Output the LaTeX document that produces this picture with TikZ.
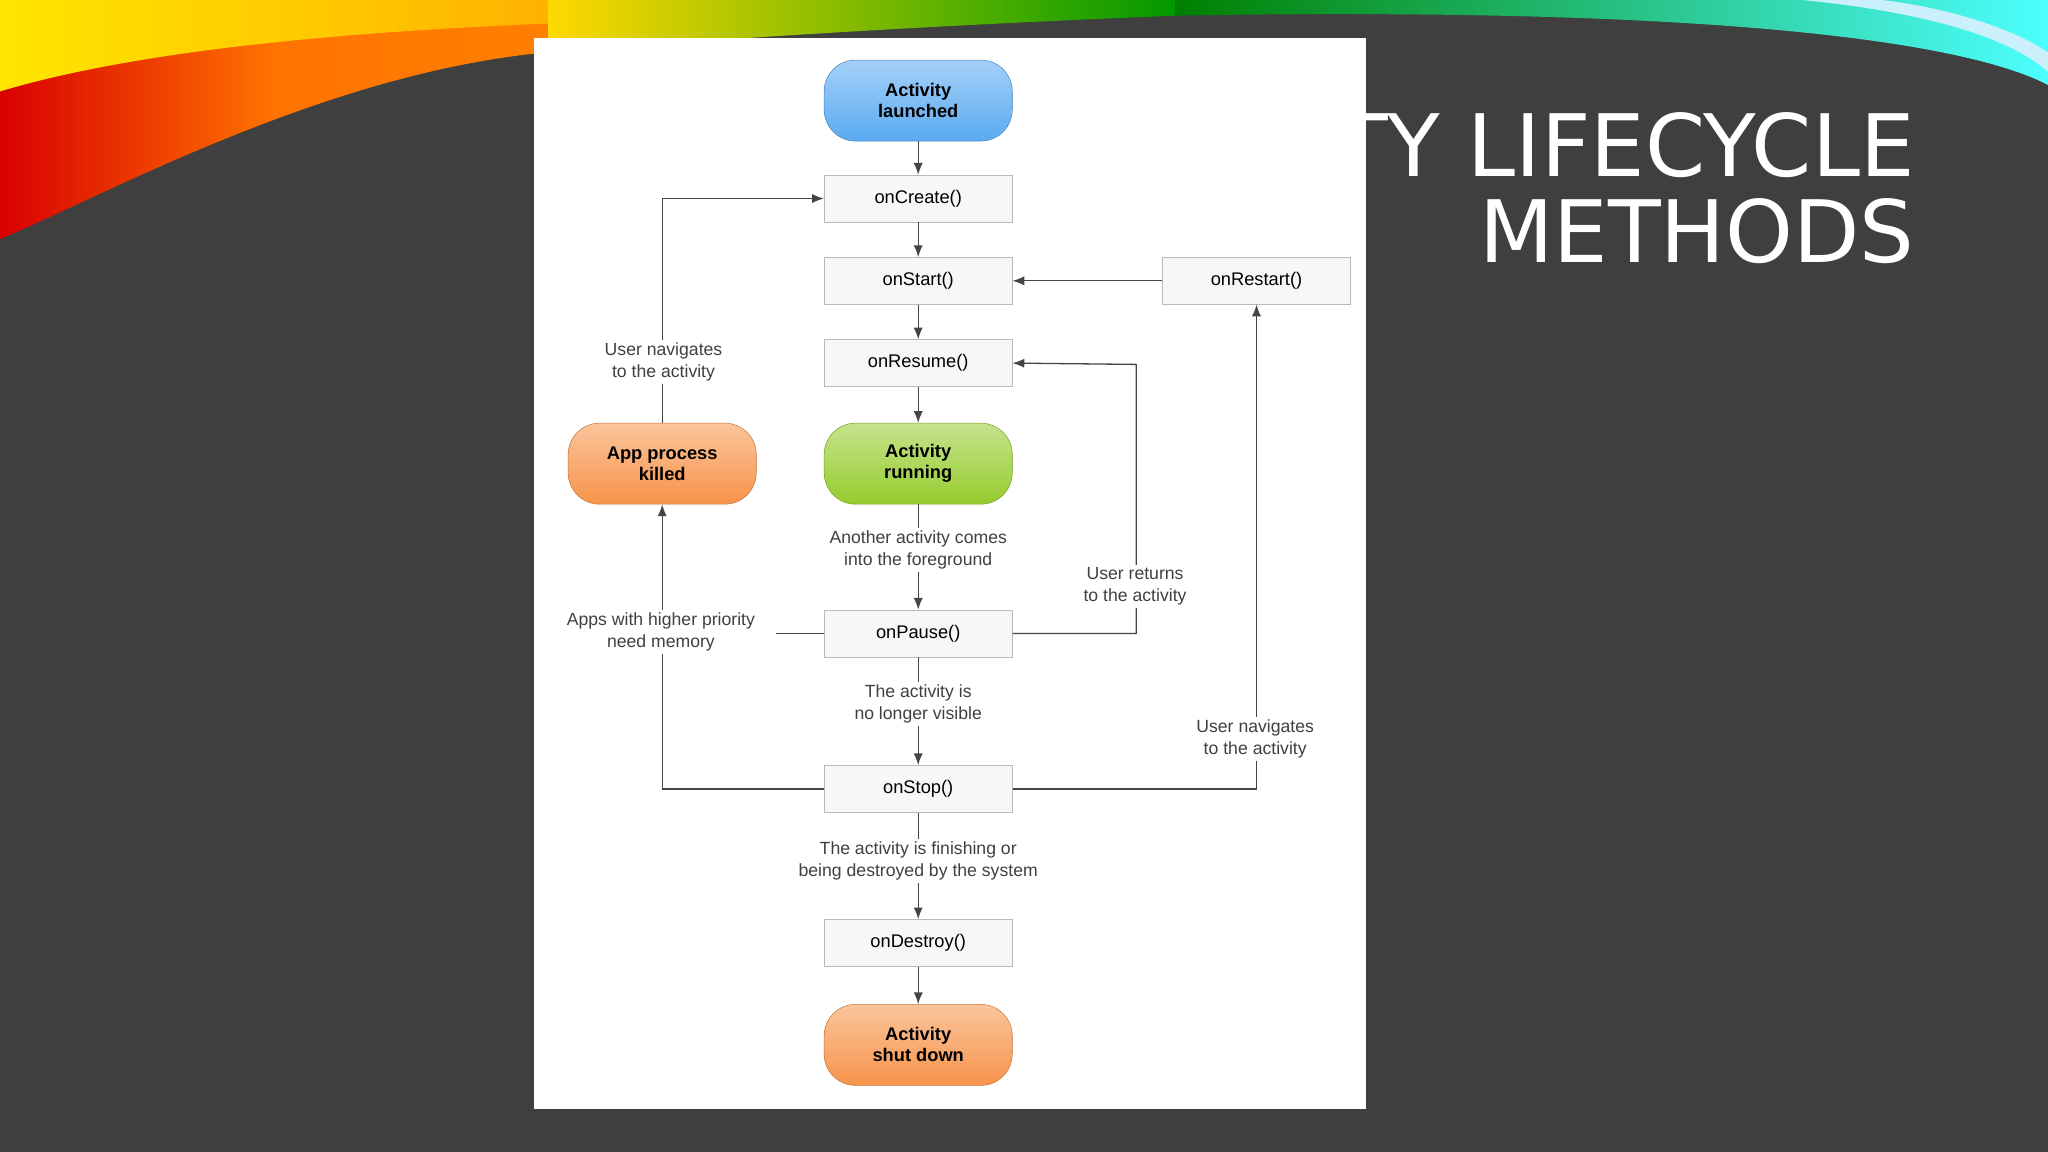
\documentclass[tikz,border=0pt]{standalone}
\usepackage{fontspec}
\setmainfont{Liberation Sans}
\newfontfamily\titlefont{DejaVu Sans}
\usetikzlibrary{arrows.meta}
\definecolor{bg}{HTML}{3F3F3F}
\definecolor{ln}{HTML}{454545}
\begin{document}
\begin{tikzpicture}[x=1pt,y=-1pt,
  box/.style={draw=gray!55,fill=gray!6,minimum width=144pt,minimum height=36pt,inner sep=0pt,font=\fontsize{14}{16}\selectfont},
  pill/.style={draw=#1!80!black,top color=#1!55!white,bottom color=#1,rounded corners=24pt,minimum width=144pt,minimum height=62pt,inner sep=0pt,align=center,font=\fontsize{14}{16}\selectfont\bfseries},
  lab/.style={fill=white,align=center,inner sep=2pt,text=black!75,font=\fontsize{13.5}{17}\selectfont},
  ar/.style={draw=ln,line width=1pt,-{Latex[length=9pt,width=7pt]}},
  li/.style={draw=ln,line width=1pt}]
\definecolor{bl}{HTML}{5AAAF2}\definecolor{gr}{HTML}{96CC2E}\definecolor{og}{HTML}{F7944A}
\fill[bg] (0,0) rectangle (1568,882);
\useasboundingbox (0,0) rectangle (1568,882);
% swooshes
\shade[left color=red!85!black,right color=orange,middle color=orange!90!red] (0,0) -- (420,0) -- (420,40) .. controls (250,55) and (80,150) .. (0,183) -- cycle;
\shade[left color=yellow!80!orange,right color=orange!60!yellow] (0,0) -- (420,0) -- (420,18) .. controls (250,25) and (100,40) .. (0,70) -- cycle;
\shade[left color=yellow!70!orange,right color=green!60!black] (420,0) -- (900,0) -- (900,12) .. controls (700,20) and (550,30) .. (420,40) -- cycle;
\shade[left color=green!50!black,right color=cyan!70!white] (900,0) -- (1568,0) -- (1568,65) .. controls (1500,30) and (1300,5) .. (900,12) -- cycle;
\fill[white!80!cyan] (1380,0) .. controls (1480,10) and (1540,30) .. (1568,55) -- (1568,40) .. controls (1530,15) and (1470,3) .. (1440,0) -- cycle;
% title
\node[anchor=north east,align=right,text=white,font=\titlefont\fontsize{66}{66}\selectfont,inner sep=0pt] (title) at (1466,86) {VITY LIFECYCLE\\[0pt]METHODS};
% panel
\fill[white] (409,29) rectangle (1046,849);
% nodes
\node[pill=bl] (launch) at (703,77) {Activity\\launched};
\node[box] (create) at (703,152) {onCreate()};
\node[box] (start) at (703,215) {onStart()};
\node[box] (resume) at (703,278) {onResume()};
\node[pill=gr] (run) at (703,355) {Activity\\running};
\node[box] (pause) at (703,485) {onPause()};
\node[box] (stop) at (703,604) {onStop()};
\node[box] (destroy) at (703,722) {onDestroy()};
\node[pill=og] (shut) at (703,800) {Activity\\shut down};
\node[pill=og] (killed) at (507,355) {App process\\killed};
\node[box] (restart) at (962,215) {onRestart()};
\coordinate (pw) at (594,485);
\coordinate (ca) at (507,152);
\coordinate (sa) at (507,604);
\coordinate (ra) at (870,485);
\coordinate (rb) at (870,279);
\coordinate (ta) at (962,604);
% edges
\draw[ar] (launch) -- (create);
\draw[ar] (create) -- (start);
\draw[ar] (start) -- (resume);
\draw[ar] (resume) -- (run);
\draw[ar] (run) -- (pause);
\draw[ar] (pause) -- (stop);
\draw[ar] (stop) -- (destroy);
\draw[ar] (destroy) -- (shut);
\draw[ar] (restart) -- (start);
\draw[ar] (pause.east) -- (ra) -- (rb) -- (resume.east);
\draw[ar] (killed.north) -- (ca) -- (create.west);
\draw[ar] (stop.west) -- (sa) -- (killed.south);
\draw[li] (pause.west) -- (pw);
\draw[ar] (stop.east) -- (ta) -- (restart.south);
% labels
\node[lab] (l1) at (508,277) {User navigates\\to the activity};
\node[lab] (l2) at (703,421) {Another activity comes\\into the foreground};
\node[lab] (l3) at (869,449) {User returns\\to the activity};
\node[lab] (l4) at (506,484) {Apps with higher priority\\need memory};
\node[lab] (l5) at (703,539) {The activity is\\no longer visible};
\node[lab] (l6) at (961,566) {User navigates\\to the activity};
\node[lab] (l7) at (703,659) {The activity is finishing or\\being destroyed by the system};
\end{tikzpicture}
\end{document}
